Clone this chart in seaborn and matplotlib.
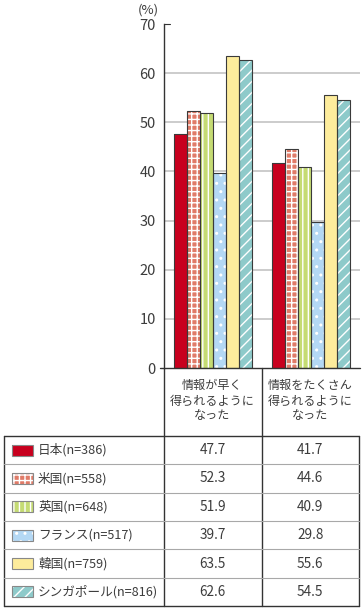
import matplotlib
matplotlib.use("Agg")
import matplotlib.pyplot as plt
import seaborn as sns
import pandas as pd
from matplotlib.patches import Rectangle

categories = ["情報が早く\n得られるように\nなった", "情報をたくさん\n得られるように\nなった"]
countries = ["日本(n=386)", "米国(n=558)", "英国(n=648)", "フランス(n=517)", "韓国(n=759)", "シンガポール(n=816)"]
v_japan = [47.7, 41.7]
v_usa = [52.3, 44.6]
v_uk = [51.9, 40.9]
v_france = [39.7, 29.8]
v_korea = [63.5, 55.6]
v_singapore = [62.6, 54.5]
series = [v_japan, v_usa, v_uk, v_france, v_korea, v_singapore]
yticks = [0, 10, 20, 30, 40, 50, 60, 70]

colors = ["#C8001E", "#E07B68", "#C5DB73", "#B4D8F4", "#FDEC9C", "#8ECACA"]
hatches = [None, "+++", "|||", "..", None, "///"]

sns.set_theme(style="white")
plt.rcParams["font.family"] = ["Noto Sans CJK JP", "DejaVu Sans"]
plt.rcParams["hatch.linewidth"] = 1.0

rows = []
for c, vals in zip(countries, series):
    for cat, v in zip(categories, vals):
        rows.append({"country": c, "category": cat, "value": v})
df = pd.DataFrame(rows)

W, H = 363, 610
fig = plt.figure(figsize=(W / 100, H / 100), dpi=100)
fig.patch.set_facecolor("white")

def fx(px):
    return px / W

def fy(py):
    return 1 - py / H

txt_c = "#3c3c3c"
ax_l, ax_r, ax_t, ax_b = 164, 360, 24, 368
ax = fig.add_axes([fx(ax_l), fy(ax_b), (ax_r - ax_l) / W, (ax_b - ax_t) / H])
sns.barplot(data=df, x="category", y="value", hue="country", order=categories,
            hue_order=countries, palette=colors, width=0.8, ax=ax, legend=False,
            saturation=1, linewidth=0)
ax.set_xlim(-0.5, 1.5)
ax.set_ylim(0, 70)
ax.set_yticks(yticks)
ax.set_yticklabels([str(t) for t in yticks], fontsize=10.5, color=txt_c)
ax.set_xticks([])
ax.set_xlabel("")
ax.set_ylabel("")
for s in ["top", "right", "bottom"]:
    ax.spines[s].set_visible(False)
ax.spines["left"].set_color("#333333")
ax.spines["left"].set_linewidth(1.0)
ax.tick_params(axis="y", direction="out", length=4, width=0.8, color="#333333", pad=2)
for t in yticks[1:-1]:
    ax.axhline(t, color="#C8C8C8", lw=1.3, zorder=0)
ax.plot([0, 0.03], [70, 70], transform=ax.get_yaxis_transform(), color="#333333",
        lw=0.8, clip_on=False)

bars = [p for p in ax.patches if isinstance(p, Rectangle)]
n_cat = len(categories)
for i, p in enumerate(bars):
    k = i // n_cat
    p.set_facecolor(colors[k])
    if hatches[k]:
        p.set_hatch(hatches[k])
        p.set_edgecolor("white")
        p.set_linewidth(0)
    ax.add_patch(Rectangle(p.get_xy(), p.get_width(), p.get_height(), fill=False,
                           edgecolor="#3a3a3a", lw=0.8, zorder=p.get_zorder() + 0.1))

fig.text(fx(148), fy(10), "(%)", fontsize=9.5, color=txt_c, ha="center", va="center")

tab = fig.add_axes([0, 0, 1, 1])
tab.set_xlim(0, W)
tab.set_ylim(H, 0)
tab.axis("off")
tab.patch.set_alpha(0)

line_c = "#333333"
col_x = [4, 163.5, 261.5, 359]
hdr_top, tbl_top, tbl_bot = 368, 436, 606
row_h = (tbl_bot - tbl_top) / len(countries)

tab.plot([160, 360], [hdr_top, hdr_top], color=line_c, lw=1.0)
for x in col_x[1:3]:
    tab.plot([x, x], [hdr_top, tbl_bot], color=line_c, lw=1.0)
tab.plot([col_x[0], col_x[0]], [tbl_top, tbl_bot], color=line_c, lw=1.0)
tab.plot([col_x[3], col_x[3]], [tbl_top, tbl_bot], color=line_c, lw=1.0)
tab.plot([col_x[0], col_x[3]], [tbl_top, tbl_top], color=line_c, lw=1.0)
tab.plot([col_x[0], col_x[3]], [tbl_bot, tbl_bot], color=line_c, lw=1.0)
for r in range(1, len(countries)):
    y = tbl_top + r * row_h
    tab.plot([col_x[0], col_x[3]], [y, y], color="#A8A8A8", lw=0.8)

for j, cat in enumerate(categories):
    cx = (col_x[j + 1] + col_x[j + 2]) / 2
    tab.text(cx, (hdr_top + tbl_top) / 2 - 1, cat, ha="center", va="center",
             fontsize=8.7, color=txt_c, linespacing=1.2)

for r, (name, vals) in enumerate(zip(countries, series)):
    yc = tbl_top + (r + 0.5) * row_h
    sw = Rectangle((12, yc - 5.5), 21, 11, facecolor=colors[r],
                   edgecolor="white" if hatches[r] else colors[r], lw=0,
                   hatch=hatches[r])
    tab.add_patch(sw)
    tab.add_patch(Rectangle((12, yc - 5.5), 21, 11, fill=False, edgecolor="#888888", lw=0.8))
    tab.text(38, yc, name, ha="left", va="center", fontsize=9.1, color=txt_c)
    for j, v in enumerate(vals):
        cx = (col_x[j + 1] + col_x[j + 2]) / 2
        tab.text(cx, yc, f"{v:.1f}", ha="center", va="center", fontsize=9.8, color=txt_c)

fig.savefig("out.png", dpi=100, facecolor="white")
